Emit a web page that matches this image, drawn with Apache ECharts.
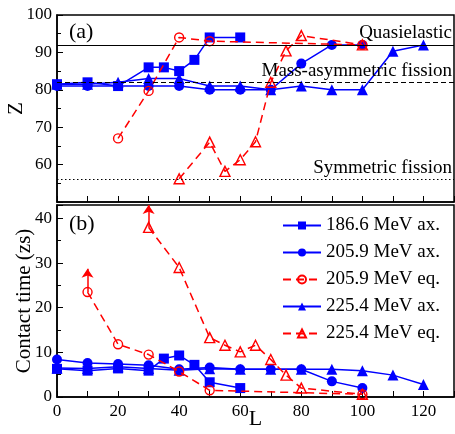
<!DOCTYPE html>
<html>
<head>
<meta charset="utf-8">
<script src="https://cdn.jsdelivr.net/npm/echarts@6/dist/echarts.min.js"></script>
<style>
html, body { margin: 0; padding: 0; background: #fff; }
#chart { width: 455px; height: 434px; }
</style>
</head>
<body>
<div id="chart"></div>
<script>
// 186.6 MeV ax.
var sqL = [0, 10, 20, 30, 35, 40, 45, 50, 60];
var sqZ = [81.5, 82, 81, 86, 86, 85, 88, 94, 94];
var sqT = [6.3, 5.9, 6.4, 5.9, 8.6, 9.3, 7.2, 3.3, 2.0];
// 205.9 MeV ax.
var ciL = [0, 10, 20, 30, 40, 50, 60, 70, 80, 90, 100];
var ciZ = [81, 81, 81, 81, 81, 80, 80, 80, 87, 92, 92];
var ciT = [8.4, 7.6, 7.4, 7.1, 6.2, 6.6, 6.2, 6.2, 6.2, 3.5, 2.0];
// 205.9 MeV eq.
var ceqLz = [20, 30, 40, 50, 100];
var ceqZ = [67, 79.7, 94, 93, 92];
var ceqLt = [10, 20, 30, 40, 50, 100];
var ceqT = [23.5, 11.8, 9.5, 5.7, 1.5, 0.6];
// 225.4 MeV ax.
var trL = [0, 10, 20, 30, 40, 50, 60, 70, 80, 90, 100, 110, 120];
var trZ = [81.5, 81.5, 82, 83, 83, 81, 81, 80, 81, 80, 80, 90.3, 92];
var trT = [6.5, 6.4, 6.8, 6.4, 6.0, 6.3, 6.2, 6.2, 6.2, 6.2, 5.9, 4.9, 2.8];
// 225.4 MeV eq.
var teqLz = [40, 50, 55, 60, 65, 70, 75, 80, 100];
var teqZ = [56.2, 66, 58.2, 61.3, 66.1, 82, 90.4, 94.5, 92];
var teqLt = [30, 40, 50, 55, 60, 65, 70, 75, 80, 100];
var teqT = [38, 29, 13.3, 11.6, 10.1, 11.6, 8.4, 4.9, 2.0, 0.6];

// arrows: lower bounds on contact time
var arrowL = [10, 30];
var arrowFrom = [23.5, 38];
var arrowTo = [28.7, 43];

// reference Z values
var refNames = ['Quasielastic', 'Mass-asymmetric fission', 'Symmetric fission'];
var refZ = [92, 82, 56];

var names = ['186.6 MeV ax.', '205.9 MeV ax.', '205.9 MeV eq.', '225.4 MeV ax.', '225.4 MeV eq.'];

var BLUE = '#0000ff';
var RED = '#ff0000';
var FONT = 'Liberation Serif';

function pairs(xs, ys) {
	var out = [];
	for (var i = 0; i < xs.length; i++) out.push([xs[i], ys[i]]);
	return out;
}

function xAx(idx, showLabel) {
	return {
		type: 'value', gridIndex: idx, min: 0, max: 130, interval: 20,
		name: showLabel ? 'L' : '', nameLocation: 'middle', nameGap: 11, nameMoveOverlap: false,
		nameTextStyle: { fontFamily: FONT, fontSize: 22, color: '#000' },
		axisLine: { show: true, lineStyle: { color: '#000', width: 1.5 } },
		axisTick: { show: true, inside: true, length: 6, lineStyle: { color: '#000' } },
		minorTick: { show: true, splitNumber: 2, length: 6, lineStyle: { color: '#000' } },
		splitLine: { show: false },
		axisLabel: { show: showLabel, showMaxLabel: false, fontFamily: FONT, fontSize: 17, color: '#000', margin: 6 }
	};
}

function yAx(idx, min, max, name, gap) {
	return {
		type: 'value', gridIndex: idx, min: min, max: max, interval: 10,
		name: name, nameLocation: 'middle', nameGap: gap, nameRotate: 90, nameMoveOverlap: false,
		nameTextStyle: { fontFamily: FONT, fontSize: 21, color: '#000' },
		axisLine: { show: true, lineStyle: { color: '#000', width: 1.5 } },
		axisTick: { show: true, inside: true, length: 6, lineStyle: { color: '#000' } },
		minorTick: { show: true, splitNumber: 2, length: 4, lineStyle: { color: '#000' } },
		splitLine: { show: false },
		axisLabel: {
			fontFamily: FONT, fontSize: 17, color: '#000', margin: 5,
			formatter: function(v) { return (v % 10 === 0 && v > (min === 50 ? 50 : -1)) ? v : ''; }
		}
	};
}

function ax(name, xi, xs, ys, symbol) {
	return {
		name: name, type: 'line', xAxisIndex: xi, yAxisIndex: xi,
		data: pairs(xs, ys), symbol: symbol, symbolSize: symbol == 'triangle' ? 11 : 10,
		lineStyle: { color: BLUE, width: 1.5 },
		itemStyle: { color: BLUE },
		z: 2
	};
}

function eq(name, xi, xs, ys, symbol) {
	return {
		name: name, type: 'line', xAxisIndex: xi, yAxisIndex: xi,
		data: pairs(xs, ys), symbol: symbol, symbolSize: symbol == 'triangle' ? 10 : 9,
		lineStyle: { color: RED, width: 1.5, type: [8, 5] },
		itemStyle: { color: 'rgba(255,255,255,0)', borderColor: RED, borderWidth: 1.4 },
		z: 3
	};
}

var refStyles = ['solid', [5, 3], [1.5, 2.5]];
var refLines = [];
for (var i = 0; i < refZ.length; i++) {
	refLines.push({
		yAxis: refZ[i], name: refNames[i],
		lineStyle: { color: '#000', width: 1, type: refStyles[i] },
		label: {
			show: true, position: 'insideEndTop', formatter: refNames[i], distance: 2,
			fontFamily: FONT, fontSize: 19, color: '#000'
		}
	});
}

var arrows = [];
for (var i = 0; i < arrowL.length; i++) {
	arrows.push([{ coord: [arrowL[i], arrowFrom[i]] }, { coord: [arrowL[i], arrowTo[i]] }]);
}

var chart = echarts.init(document.getElementById('chart'));

var topSeries = [
	ax(names[0], 0, sqL, sqZ, 'rect'),
	ax(names[1], 0, ciL, ciZ, 'circle'),
	ax(names[3], 0, trL, trZ, 'triangle'),
	eq(names[2], 0, ceqLz, ceqZ, 'circle'),
	eq(names[4], 0, teqLz, teqZ, 'triangle')
];
topSeries[0].markLine = {
	silent: true, symbol: ['none', 'none'], animation: false,
	data: refLines
};

var botSeries = [
	ax(names[0], 1, sqL, sqT, 'rect'),
	ax(names[1], 1, ciL, ciT, 'circle'),
	ax(names[3], 1, trL, trT, 'triangle'),
	eq(names[2], 1, ceqLt, ceqT, 'circle'),
	eq(names[4], 1, teqLt, teqT, 'triangle')
];
botSeries[3].markLine = {
	silent: true, symbol: ['none', 'arrow'], symbolSize: 9, animation: false,
	label: { show: false },
	lineStyle: { color: RED, width: 1.5, type: 'solid' },
	itemStyle: { color: RED },
	data: arrows
};

var option = {
	animation: false,
	backgroundColor: '#fff',
	textStyle: { fontFamily: FONT },
	title: [
		{ text: '(a)', left: 64, top: 16, textStyle: { fontFamily: FONT, fontSize: 22, fontWeight: 'normal', color: '#000' } },
		{ text: '(b)', left: 64, top: 208, textStyle: { fontFamily: FONT, fontSize: 22, fontWeight: 'normal', color: '#000' } }
	],
	legend: {
		data: names, orient: 'vertical', left: 277, top: 211,
		itemWidth: 38, itemHeight: 10, itemGap: 8,
		textStyle: { fontFamily: FONT, fontSize: 19, color: '#000' }
	},
	grid: [
		{ left: 57, right: 1, top: 15, height: 187, show: true, borderColor: '#000', borderWidth: 1.5, containLabel: false, outerBoundsMode: 'none' },
		{ left: 57, right: 1, top: 205, height: 192, show: true, borderColor: '#000', borderWidth: 1.5, containLabel: false, outerBoundsMode: 'none' }
	],
	xAxis: [xAx(0, false), xAx(1, true)],
	yAxis: [yAx(0, 50, 100, 'Z', 30), yAx(1, 0, 43, 'Contact time (zs)', 22)],
	series: topSeries.concat(botSeries)
};

chart.setOption(option);
</script>
</body>
</html>
